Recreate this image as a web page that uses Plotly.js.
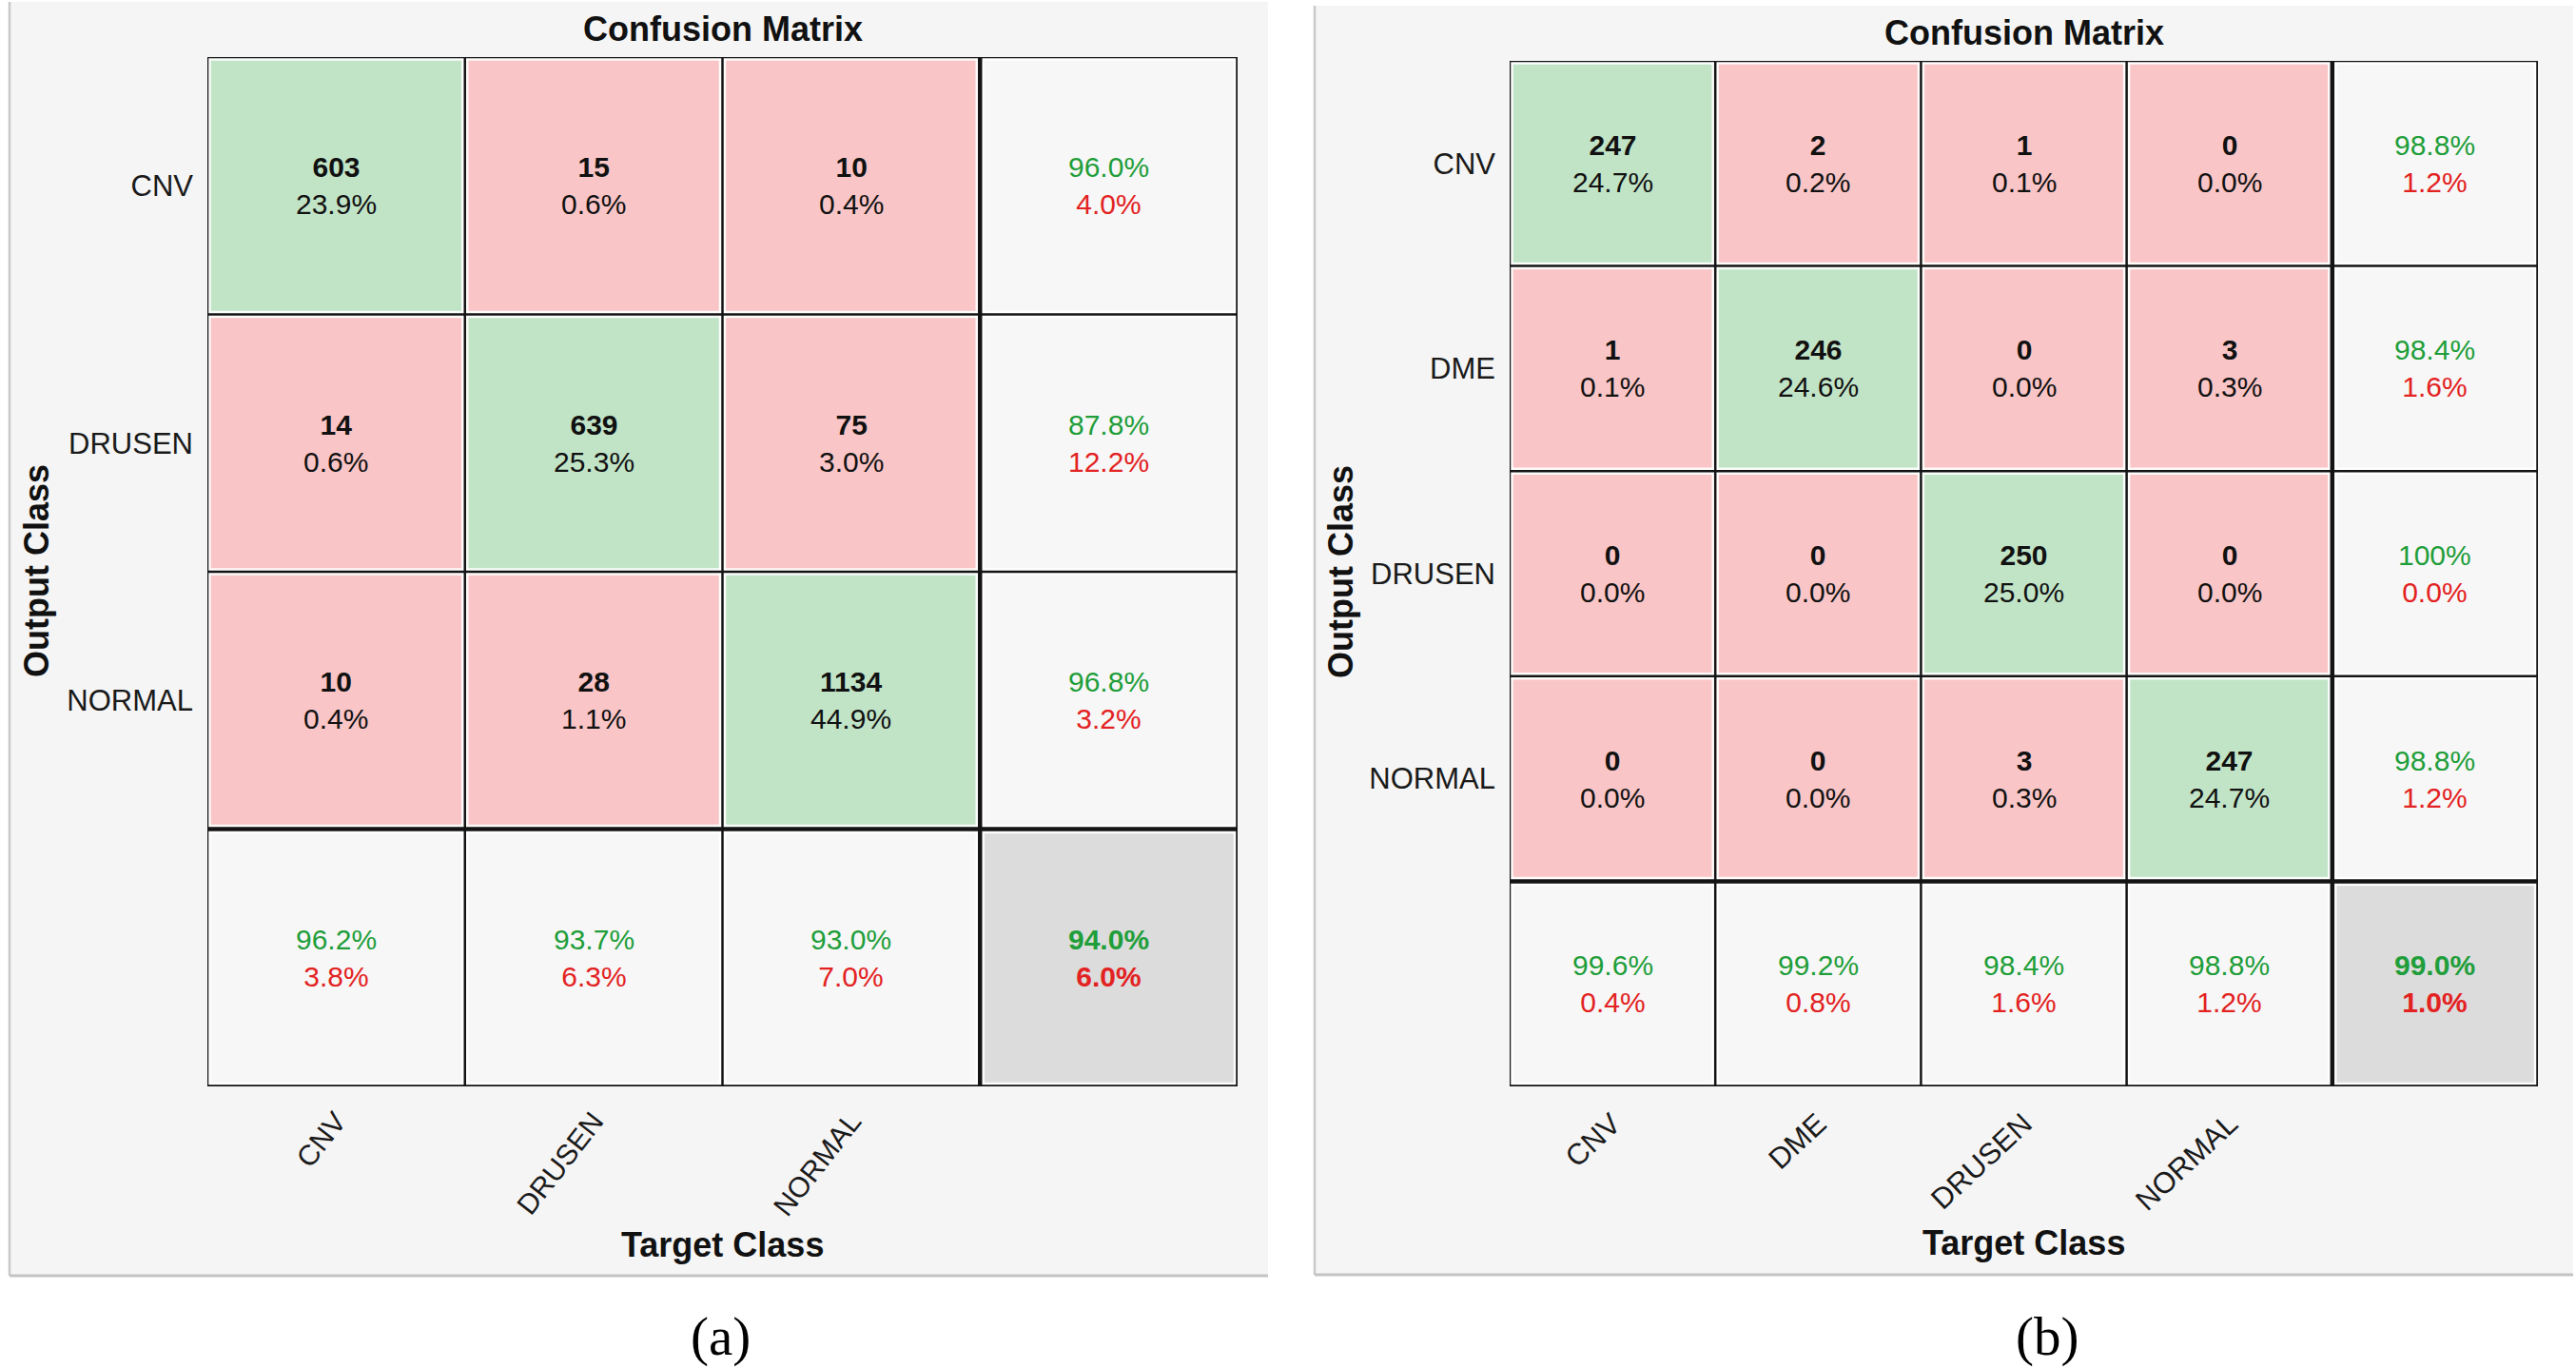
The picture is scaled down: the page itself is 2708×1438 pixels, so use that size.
<!DOCTYPE html>
<html>
<head>
<meta charset="utf-8">
<script src="https://cdn.plot.ly/plotly-3.0.1.min.js"></script>
<style>html,body{margin:0;padding:0;background:#fff;}#chart{width:2708px;height:1438px;}</style>
</head>
<body>
<div id="chart"></div>
<script>
// ---------- data: panel (a) ----------
const classesA = ['CNV', 'DRUSEN', 'NORMAL'];
const countsA = [[603, 15, 10], [14, 639, 75], [10, 28, 1134]];      // rows = output, cols = target
const pctA = [['23.9%', '0.6%', '0.4%'], ['0.6%', '25.3%', '3.0%'], ['0.4%', '1.1%', '44.9%']];
const rowAccA = ['96.0%', '87.8%', '96.8%'];
const rowErrA = ['4.0%', '12.2%', '3.2%'];
const colAccA = ['96.2%', '93.7%', '93.0%'];
const colErrA = ['3.8%', '6.3%', '7.0%'];
const totalA = ['94.0%', '6.0%'];

// ---------- data: panel (b) ----------
const classesB = ['CNV', 'DME', 'DRUSEN', 'NORMAL'];
const countsB = [[247, 2, 1, 0], [1, 246, 0, 3], [0, 0, 250, 0], [0, 0, 3, 247]];
const pctB = [['24.7%', '0.2%', '0.1%', '0.0%'], ['0.1%', '24.6%', '0.0%', '0.3%'], ['0.0%', '0.0%', '25.0%', '0.0%'], ['0.0%', '0.0%', '0.3%', '24.7%']];
const rowAccB = ['98.8%', '98.4%', '100%', '98.8%'];
const rowErrB = ['1.2%', '1.6%', '0.0%', '1.2%'];
const colAccB = ['99.6%', '99.2%', '98.4%', '98.8%'];
const colErrB = ['0.4%', '0.8%', '1.6%', '1.2%'];
const totalB = ['99.0%', '1.0%'];

const titleText = 'Confusion Matrix';
const xTitleText = 'Target Class';
const yTitleText = 'Output Class';
const captions = ['(a)', '(b)'];

// ---------- styling ----------
const SANS = 'Liberation Sans, Arial, Helvetica, sans-serif';
const SERIF = 'Liberation Serif, Times New Roman, serif';
const GREEN_TXT = '#1f9e3a';
const RED_TXT = '#e32222';
const colorscale = [
  [0, '#f9c5c6'], [0.25, '#f9c5c6'],
  [0.25, '#c1e4c7'], [0.5, '#c1e4c7'],
  [0.5, '#f7f7f7'], [0.75, '#f7f7f7'],
  [0.75, '#dcdcdc'], [1, '#dcdcdc']
];

function pw(px) { return px / 2708; }
function ph(py) { return 1 - py / 1438; }

const traces = [];
const annotations = [];
const shapes = [];
const layout = {
  width: 2708, height: 1438,
  margin: {l: 0, r: 0, t: 0, b: 0},
  paper_bgcolor: '#ffffff',
  plot_bgcolor: 'rgba(0,0,0,0)',
  showlegend: false,
  font: {family: SANS, color: '#111'}
};

function buildPanel(k, classes, counts, pcts, rowAcc, rowErr, colAcc, colErr, total, geo) {
  const n = classes.length;
  const sfx = k === 0 ? '' : String(k + 1);
  const xa = 'x' + sfx, ya = 'y' + sfx;
  const idx = [];
  for (let i = 0; i <= n; i++) idx.push(i);
  const z = [];
  for (let i = 0; i <= n; i++) {
    const row = [];
    for (let j = 0; j <= n; j++) {
      if (i < n && j < n) row.push(i === j ? 1 : 0);
      else if (i === n && j === n) row.push(3);
      else row.push(2);
    }
    z.push(row);
  }
  traces.push({
    type: 'heatmap', x: idx, y: idx, z: z, xaxis: xa, yaxis: ya,
    colorscale: colorscale, zmin: 0, zmax: 3, showscale: false, hoverinfo: 'skip'
  });

  layout['xaxis' + sfx] = {
    domain: [pw(geo.x0), pw(geo.x1)], anchor: ya,
    range: [-0.5, n + 0.5], showgrid: false, zeroline: false, showline: false,
    tickvals: idx.slice(0, n), ticktext: classes, tickangle: geo.xang,
    ticks: '', ticklabelstandoff: geo.xstand,
    tickfont: {family: SANS, size: geo.xsize, color: '#1a1a1a'}, fixedrange: true
  };
  layout['yaxis' + sfx] = {
    domain: [ph(geo.y1), ph(geo.y0)], anchor: xa,
    range: [n + 0.5, -0.5], showgrid: false, zeroline: false, showline: false,
    tickvals: idx.slice(0, n), ticktext: classes,
    ticks: '', ticklabelstandoff: 14,
    tickfont: {family: SANS, size: 31, color: '#1a1a1a'}, fixedrange: true
  };

  // cell texts
  for (let i = 0; i <= n; i++) {
    for (let j = 0; j <= n; j++) {
      let txt;
      if (i < n && j < n) {
        txt = '<b>' + counts[i][j] + '</b><br>' + pcts[i][j];
      } else if (i < n && j === n) {
        txt = '<span style="color:' + GREEN_TXT + '">' + rowAcc[i] + '</span><br><span style="color:' + RED_TXT + '">' + rowErr[i] + '</span>';
      } else if (i === n && j < n) {
        txt = '<span style="color:' + GREEN_TXT + '">' + colAcc[j] + '</span><br><span style="color:' + RED_TXT + '">' + colErr[j] + '</span>';
      } else {
        txt = '<b><span style="color:' + GREEN_TXT + '">' + total[0] + '</span><br><span style="color:' + RED_TXT + '">' + total[1] + '</span></b>';
      }
      annotations.push({
        xref: xa, yref: ya, x: j, y: i, text: txt, showarrow: false,
        font: {family: SANS, size: 30, color: '#111'}, align: 'center'
      });
    }
  }

  // grid lines (white halo under black)
  const lines = [];
  for (let b = 0; b <= n + 1; b++) {
    const p = b - 0.5;
    let w = 2.5;
    if (b === n) w = 4.5;
    if (b === n + 1) w = 3.5;
    lines.push({x0: p, x1: p, y0: -0.5, y1: n + 0.5, w: w});
    lines.push({x0: -0.5, x1: n + 0.5, y0: p, y1: p, w: w});
  }
  lines.forEach(l => shapes.push({type: 'line', xref: xa, yref: ya, x0: l.x0, x1: l.x1, y0: l.y0, y1: l.y1,
    line: {color: 'rgba(255,255,255,0.9)', width: l.w + 5}, layer: 'above'}));
  lines.forEach(l => shapes.push({type: 'line', xref: xa, yref: ya, x0: l.x0, x1: l.x1, y0: l.y0, y1: l.y1,
    line: {color: '#141414', width: l.w}, layer: 'above'}));

  // panel background (figure window look: border on left and bottom only)
  shapes.push({type: 'rect', xref: 'paper', yref: 'paper', x0: pw(geo.px0), x1: pw(geo.px1), y0: ph(geo.py1), y1: ph(geo.py0),
    fillcolor: '#f5f5f5', line: {width: 0}, layer: 'below'});
  shapes.push({type: 'line', xref: 'paper', yref: 'paper', x0: pw(geo.px0), x1: pw(geo.px0), y0: ph(geo.py1), y1: ph(geo.py0),
    line: {color: '#c9c9c9', width: 2.5}, layer: 'below'});
  shapes.push({type: 'line', xref: 'paper', yref: 'paper', x0: pw(geo.px0), x1: pw(geo.px1), y0: ph(geo.py1), y1: ph(geo.py1),
    line: {color: '#c4c4c4', width: 3}, layer: 'below'});

  // titles
  annotations.push({xref: 'paper', yref: 'paper', x: pw(geo.tx), y: ph(geo.ty), text: '<b>' + titleText + '</b>', showarrow: false,
    font: {family: SANS, size: 36, color: '#111'}, xanchor: 'center', yanchor: 'middle'});
  annotations.push({xref: 'paper', yref: 'paper', x: pw(geo.xtx), y: ph(geo.xty), text: '<b>' + xTitleText + '</b>', showarrow: false,
    font: {family: SANS, size: 36, color: '#111'}, xanchor: 'center', yanchor: 'middle'});
  annotations.push({xref: 'paper', yref: 'paper', x: pw(geo.ytx), y: ph(geo.yty), text: '<b>' + yTitleText + '</b>', showarrow: false,
    textangle: -90, font: {family: SANS, size: 36, color: '#111'}, xanchor: 'center', yanchor: 'middle'});
  annotations.push({xref: 'paper', yref: 'paper', x: pw(geo.cx), y: ph(geo.cy), text: captions[k], showarrow: false,
    font: {family: SERIF, size: 57, color: '#000'}, xanchor: 'center', yanchor: 'middle'});
}

buildPanel(0, classesA, countsA, pctA, rowAccA, rowErrA, colAccA, colErrA, totalA,
  {x0: 218, x1: 1301, y0: 60, y1: 1142, px0: 10, px1: 1333, py0: 2, py1: 1341,
   xang: -52, xsize: 30, xstand: 12,
   tx: 760, ty: 31, xtx: 760, xty: 1308, ytx: 38, yty: 600, cx: 757, cy: 1405});
buildPanel(1, classesB, countsB, pctB, rowAccB, rowErrB, colAccB, colErrB, totalB,
  {x0: 1587, x1: 2668, y0: 64, y1: 1142, px0: 1382, px1: 2705, py0: 6, py1: 1340,
   xang: -43, xsize: 31, xstand: 14,
   tx: 2128, ty: 35, xtx: 2127, xty: 1306, ytx: 1409, yty: 601, cx: 2152, cy: 1405});

layout.annotations = annotations;
layout.shapes = shapes;

Plotly.newPlot('chart', traces, layout, {displayModeBar: false, staticPlot: true});
</script>
</body>
</html>
